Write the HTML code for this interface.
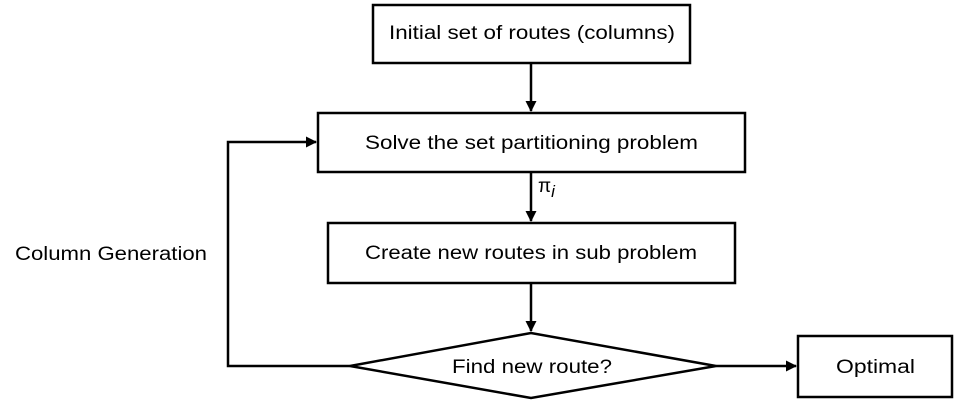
<!DOCTYPE html>
<html><head><style>body{margin:0;background:#fff}svg text{font-family:"Liberation Sans",sans-serif;font-size:19px;fill:#000}</style></head>
<body>
<svg width="955" height="402" xmlns="http://www.w3.org/2000/svg">
<defs><marker id="a" markerWidth="11" markerHeight="11" refX="10" refY="5.5" orient="auto" markerUnits="userSpaceOnUse"><path d="M0,0 L11,5.5 L0,11 z" fill="#000"/></marker></defs>
<g fill="#fff" stroke="#000" stroke-width="2.5">
<rect x="373" y="5" width="317" height="58"/>
<rect x="318" y="113" width="427" height="59"/>
<rect x="328" y="223" width="407" height="60"/>
<polygon points="350,366 531,333 716,366 531,398"/>
<rect x="798" y="336" width="154" height="61"/>
</g>
<g stroke="#000" stroke-width="2.5" fill="none">
<line x1="531" y1="63" x2="531" y2="111" marker-end="url(#a)"/>
<line x1="531" y1="172" x2="531" y2="221" marker-end="url(#a)"/>
<line x1="531" y1="283" x2="531" y2="331" marker-end="url(#a)"/>
<line x1="716" y1="366" x2="796" y2="366" marker-end="url(#a)"/>
<polyline points="350,366 228,366 228,142 316,142" marker-end="url(#a)"/>
</g>
<text x="389" y="39" textLength="286" lengthAdjust="spacingAndGlyphs">Initial set of routes (columns)</text>
<text x="365" y="149" textLength="333" lengthAdjust="spacingAndGlyphs">Solve the set partitioning problem</text>
<text x="365" y="259" textLength="332" lengthAdjust="spacingAndGlyphs">Create new routes in sub problem</text>
<text x="452" y="373" textLength="160" lengthAdjust="spacingAndGlyphs">Find new route?</text>
<text x="836" y="373" textLength="79" lengthAdjust="spacingAndGlyphs">Optimal</text>
<text x="15" y="260" textLength="192" lengthAdjust="spacingAndGlyphs">Column Generation</text>
<text x="538" y="192" font-size="21">π<tspan font-style="italic" font-size="17" dy="5">i</tspan></text>
</svg>
</body></html>
